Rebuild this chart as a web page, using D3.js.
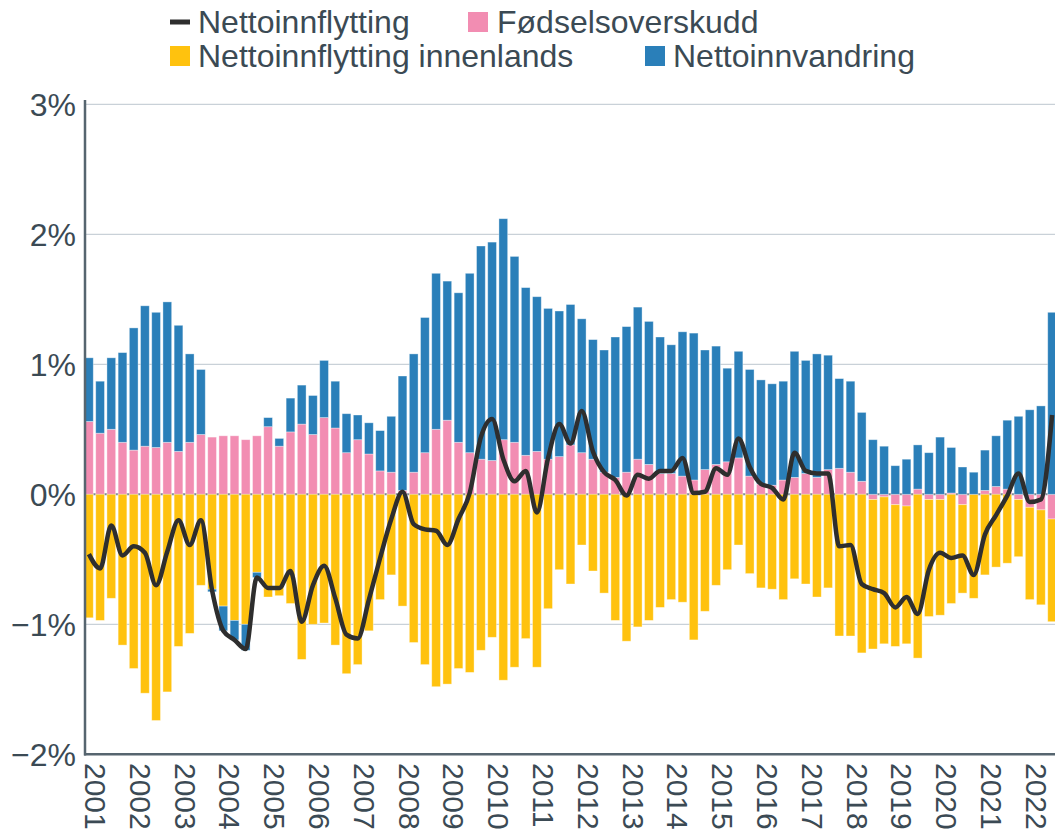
<!DOCTYPE html>
<html>
<head>
<meta charset="utf-8">
<script src="https://cdn.jsdelivr.net/npm/d3@7"></script>
<style>
  body { margin: 0; background: #fff; }
  text { font-family: "Liberation Sans", Arial, sans-serif; }
</style>
</head>
<body>
<svg width="1055" height="832"></svg>
<script>
// kvartal 2001K1 - 2022K3, prosent av folketallet
var years = d3.range(2001, 2023);
var quarters = [];
years.forEach(function(y) {
  for (var q = 1; q <= 4; q++) if (!(y === 2022 && q === 4)) quarters.push(y + "K" + q);
});

var fodselsoverskudd = [
  0.56, 0.47, 0.50, 0.40, 0.34, 0.37, 0.36, 0.40, 0.33, 0.40, 0.46,
  0.44, 0.45, 0.45, 0.42, 0.45, 0.52, 0.37, 0.48, 0.54, 0.46,
  0.59, 0.51, 0.32, 0.42, 0.31, 0.18, 0.17, 0.03, 0.17, 0.32,
  0.50, 0.57, 0.40, 0.32, 0.27, 0.26, 0.42, 0.40, 0.30, 0.33,
  0.27, 0.29, 0.38, 0.32, 0.27, 0.17, 0.13, 0.17, 0.27, 0.23,
  0.16, 0.16, 0.14, 0.11, 0.19, 0.23, 0.25, 0.28, 0.14, 0.08,
  0.07, 0.11, 0.13, 0.16, 0.13, 0.19, 0.20, 0.17, 0.10, -0.04,
  -0.02, -0.08, -0.09, 0.04, -0.04, -0.04, 0.01, -0.08, 0.00, 0.03,
  0.06, 0.04, -0.04, -0.10, -0.12, -0.19
];

var innenlands = [
  -0.95, -0.97, -0.80, -1.16, -1.34, -1.53, -1.74, -1.52, -1.17, -1.07, -0.70,
  -0.73, -0.86, -0.97, -1.00, -0.60, -0.79, -0.78, -0.84, -1.27, -1.00,
  -0.99, -1.16, -1.38, -1.31, -1.05, -0.81, -0.62, -0.86, -1.14, -1.31,
  -1.48, -1.46, -1.34, -1.37, -1.20, -1.10, -1.43, -1.33, -1.11, -1.33,
  -0.88, -0.58, -0.69, -0.39, -0.59, -0.76, -0.97, -1.13, -1.02, -0.97,
  -0.87, -0.81, -0.83, -1.12, -0.90, -0.70, -0.58, -0.39, -0.61, -0.72,
  -0.73, -0.81, -0.65, -0.69, -0.79, -0.72, -1.09, -1.09, -1.22, -1.15,
  -1.13, -1.09, -1.06, -1.26, -0.90, -0.89, -0.84, -0.68, -0.80, -0.62,
  -0.56, -0.53, -0.44, -0.71, -0.73, -0.79
];

var innvandring = [
  0.49, 0.40, 0.55, 0.69, 0.94, 1.08, 1.04, 1.08, 0.97, 0.68, 0.50,
  -0.02, -0.19, -0.15, -0.20, -0.04, 0.07, 0.06, 0.26, 0.30, 0.30,
  0.44, 0.36, 0.30, 0.19, 0.24, 0.31, 0.43, 0.88, 0.91, 1.04,
  1.20, 1.07, 1.15, 1.38, 1.64, 1.68, 1.70, 1.43, 1.29, 1.19,
  1.16, 1.12, 1.08, 1.03, 0.92, 0.94, 1.08, 1.12, 1.17, 1.10,
  1.05, 0.99, 1.11, 1.13, 0.92, 0.91, 0.72, 0.82, 0.82, 0.80,
  0.78, 0.76, 0.97, 0.87, 0.95, 0.88, 0.69, 0.70, 0.53, 0.42,
  0.37, 0.22, 0.27, 0.34, 0.32, 0.44, 0.35, 0.21, 0.17, 0.31,
  0.39, 0.53, 0.60, 0.65, 0.68, 1.40
];

var nettoinnflytting = [
  -0.46, -0.57, -0.24, -0.47, -0.40, -0.45, -0.70, -0.44, -0.20, -0.39, -0.20,
  -0.74, -1.05, -1.12, -1.19, -0.64, -0.72, -0.72, -0.59, -0.98, -0.70,
  -0.55, -0.80, -1.08, -1.11, -0.81, -0.49, -0.19, 0.02, -0.23, -0.27,
  -0.28, -0.39, -0.19, 0.01, 0.44, 0.58, 0.27, 0.10, 0.18, -0.14,
  0.28, 0.54, 0.39, 0.64, 0.33, 0.17, 0.11, -0.01, 0.15, 0.12,
  0.18, 0.18, 0.28, 0.01, 0.02, 0.20, 0.15, 0.43, 0.21, 0.08,
  0.05, -0.04, 0.32, 0.18, 0.16, 0.16, -0.40, -0.39, -0.69, -0.73,
  -0.76, -0.87, -0.79, -0.92, -0.58, -0.45, -0.49, -0.47, -0.62, -0.31,
  -0.16, -0.01, 0.16, -0.06, -0.04, 0.61
];

var yTicks = [3, 2, 1, 0, -1, -2];

var keys   = ["fodsel", "innenlands", "innvandring"],
    colors = { fodsel: "#f28db2", innenlands: "#ffc20e", innvandring: "#2a7fb9" };

var rows = quarters.map(function(q, i) {
  return { q: q, fodsel: fodselsoverskudd[i], innenlands: innenlands[i], innvandring: innvandring[i] };
});

var svg = d3.select("svg");

var x = d3.scaleBand().domain(quarters).range([83.3, 1057.7]).paddingInner(0.22).paddingOuter(0.11),
    y = d3.scaleLinear().domain([-2, 3]).range([754.3, 104.3]);

var textColor = "#3b4a54", axisColor = "#56656f";

// gridlines
svg.append("g").selectAll("line")
  .data(yTicks.filter(function(d) { return d !== -2; }))
  .join("line")
  .attr("x1", 85).attr("x2", 1055)
  .attr("y1", function(d) { return y(d); }).attr("y2", function(d) { return y(d); })
  .attr("stroke", function(d) { return d === 0 ? "#7d8992" : "#c9d1d8"; })
  .attr("stroke-width", function(d) { return d === 0 ? 2 : 1.3; });

// stacked bars
var series = d3.stack().keys(keys).offset(d3.stackOffsetDiverging)(rows);

svg.append("g").selectAll("g")
  .data(series)
  .join("g")
  .attr("fill", function(s) { return colors[s.key]; })
  .selectAll("rect")
  .data(function(s) { return s; })
  .join("rect")
  .attr("x", function(d) { return x(d.data.q); })
  .attr("width", x.bandwidth())
  .attr("y", function(d) { return y(Math.max(d[0], d[1])); })
  .attr("height", function(d) { return Math.abs(y(d[0]) - y(d[1])); })
  .attr("stroke", "#ffffff")
  .attr("stroke-opacity", 0.45)
  .attr("stroke-width", 0.8);

// line
var line = d3.line()
  .x(function(d, i) { return x(quarters[i]) + x.bandwidth() / 2; })
  .y(function(d) { return y(d); })
  .curve(d3.curveMonotoneX);

svg.append("path")
  .datum(nettoinnflytting)
  .attr("d", line)
  .attr("fill", "none")
  .attr("stroke", "#2e2e2e")
  .attr("stroke-width", 4.5)
  .attr("stroke-linejoin", "round");

// axes
svg.append("line").attr("x1", 85).attr("x2", 85).attr("y1", 100).attr("y2", 755.5)
  .attr("stroke", axisColor).attr("stroke-width", 2.5);
svg.append("line").attr("x1", 84).attr("x2", 1055).attr("y1", y(-2)).attr("y2", y(-2))
  .attr("stroke", axisColor).attr("stroke-width", 2.5);

svg.append("g").selectAll("text")
  .data(yTicks)
  .join("text")
  .attr("x", 76)
  .attr("y", function(d) { return y(d); })
  .attr("dy", "0.35em")
  .attr("text-anchor", "end")
  .attr("font-size", 32)
  .attr("fill", textColor)
  .text(function(d) { return (d < 0 ? "\u2212" + Math.abs(d) : d) + "%"; });

svg.append("g").selectAll("text")
  .data(years)
  .join("text")
  .attr("transform", function(d) { return "translate(" + (x(d + "K1") + 0.5) + ",763) rotate(90)"; })
  .attr("font-size", 30)
  .attr("fill", textColor)
  .text(function(d) { return d; });

// legend
var legend = svg.append("g").attr("font-size", 32).attr("fill", textColor);
legend.append("rect").attr("x", 170).attr("y", 19.5).attr("width", 20).attr("height", 5).attr("fill", "#2e2e2e");
legend.append("text").attr("x", 198).attr("y", 33).text("Nettoinnflytting");
legend.append("rect").attr("x", 468).attr("y", 12).attr("width", 20).attr("height", 20).attr("fill", colors.fodsel);
legend.append("text").attr("x", 497).attr("y", 33).text("Fødselsoverskudd");
legend.append("rect").attr("x", 170).attr("y", 46).attr("width", 20).attr("height", 20).attr("fill", colors.innenlands);
legend.append("text").attr("x", 198).attr("y", 67).text("Nettoinnflytting innenlands");
legend.append("rect").attr("x", 645).attr("y", 46).attr("width", 20).attr("height", 20).attr("fill", colors.innvandring);
legend.append("text").attr("x", 673).attr("y", 67).text("Nettoinnvandring");
</script>
</body>
</html>
